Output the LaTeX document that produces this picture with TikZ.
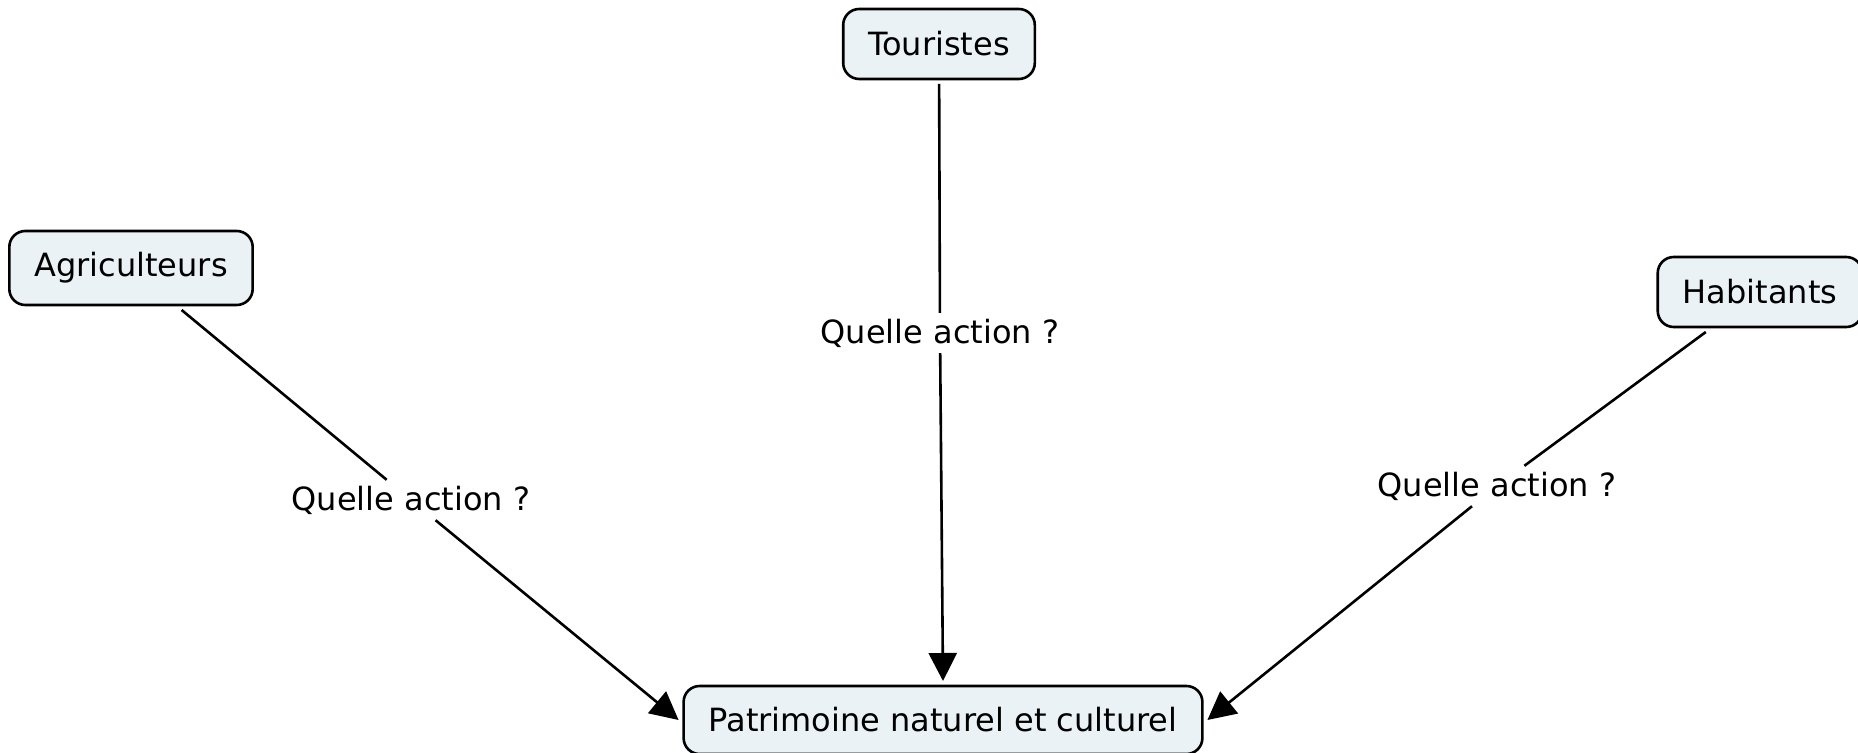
\documentclass[tikz,border=0pt]{standalone}
\usepackage{fontspec}
\setmainfont{DejaVu Sans}
\usetikzlibrary{arrows.meta}
\definecolor{fondbloc}{HTML}{EAF2F5}

\begin{document}
\begin{tikzpicture}[x=0.5pt, y=-0.5pt,
    concept/.style={draw, line width=1.3pt, fill=fondbloc,
        rounded corners=8pt, font=\fontsize{16}{19}\selectfont,
        minimum height=35pt, inner xsep=12.5pt, outer sep=2.5pt},
    liaison/.style={font=\fontsize{16}{19}\selectfont,
        inner sep=3pt, outer sep=0pt},
    trait/.style={line width=1.3pt},
    fleche/.style={trait,
        -{Triangle[length=14pt, width=14pt]}}
    ]
    \useasboundingbox (0,0) rectangle (1858,753);
    \node[concept] (tour) at (939,44) {Touristes};
    \node[concept, minimum height=37pt] (agri) at (131,268) {Agriculteurs};
    \node[concept] (hab) at (1760,292) {Habitants};
    \node[concept, minimum height=34pt] (patri) at (943,720) {Patrimoine naturel et culturel};
    \node[liaison] (qa) at (411,500) {Quelle action ?};
    \node[liaison] (qt) at (940,333) {Quelle action ?};
    \node[liaison] (qh) at (1497,486) {Quelle action ?};
    \draw[trait] (agri) -- (qa);
    \draw[fleche] (qa) -- (patri.west);
    \draw[trait] (tour) -- (qt);
    \draw[fleche] (qt) -- (patri.north);
    \draw[trait] (hab) -- (qh);
    \draw[fleche] (qh) -- (patri.east);
\end{tikzpicture}
\end{document}
